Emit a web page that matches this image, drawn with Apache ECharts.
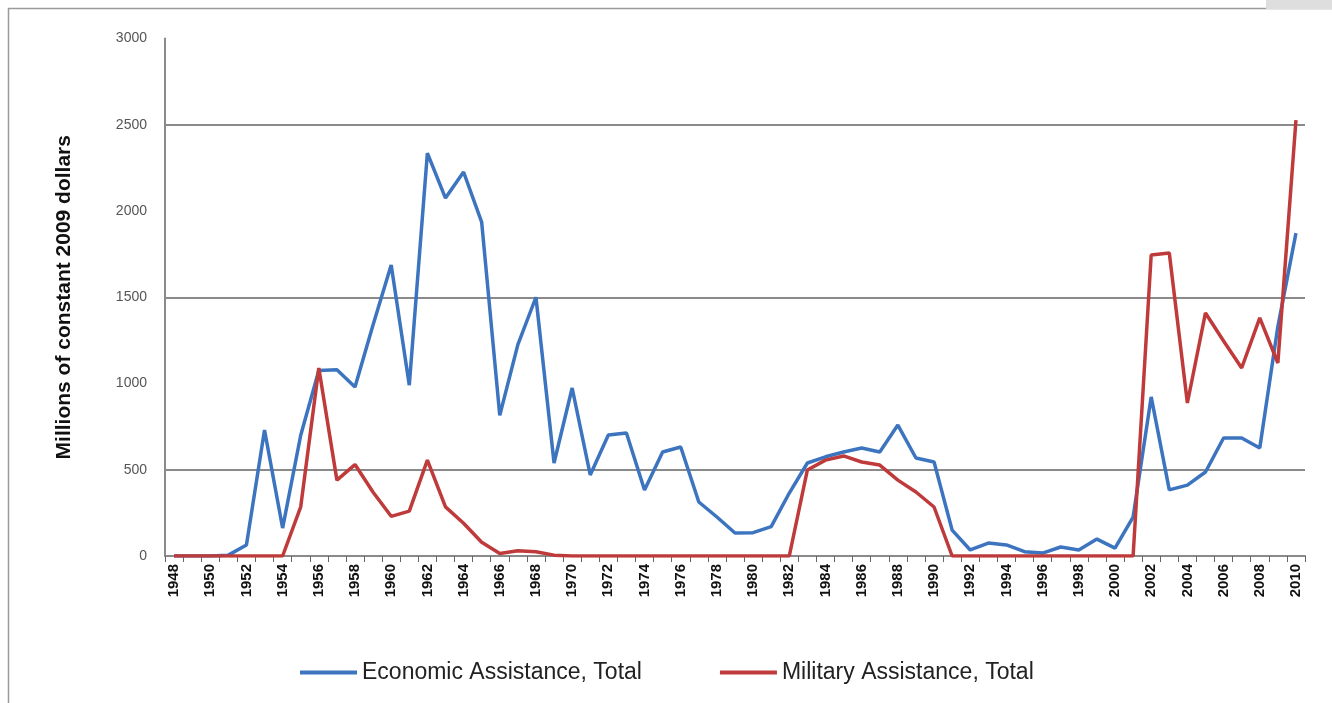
<!DOCTYPE html>
<html>
<head>
<meta charset="utf-8">
<script src="https://cdn.jsdelivr.net/npm/echarts@6/dist/echarts.min.js"></script>
<style>
html,body{margin:0;padding:0;background:#fff;}
#chart{width:1332px;height:703px;}
</style>
</head>
<body>
<div id="chart"></div>
<script>
var years = [];
for (var y = 1948; y <= 2010; y++) years.push(String(y));

var economic = [
  0, 0, 0, 5, 64, 730, 162, 700, 1075, 1080,
  980, 1340, 1687, 990, 2336, 2075, 2226, 1936, 815, 1225,
  1500, 539, 974, 470, 701, 713, 383, 603, 632, 313,
  226, 133, 135, 170, 365, 539, 575, 603, 626, 603,
  759, 568, 545, 150, 35, 75, 64, 25, 17, 52,
  35, 98, 46, 226, 922, 383, 411, 487, 684, 684,
  626, 1330, 1872
];

var military = [
  0, 0, 0, 0, 0, 0, 0, 285, 1090, 440,
  530, 370, 230, 260, 556, 285, 190, 80, 15, 30,
  25, 5, 0, 0, 0, 0, 0, 0, 0, 0,
  0, 0, 0, 0, 0, 499, 556, 580, 545, 527,
  440, 371, 284, 0, 0, 0, 0, 0, 0, 0,
  0, 0, 0, 0, 1745, 1757, 887, 1409, 1246, 1090,
  1380, 1119, 2527
];

var gridValues = [500, 1500, 2500];
var seriesNames = ['Economic Assistance, Total', 'Military Assistance, Total'];

var FONT = '"Liberation Sans", Arial, sans-serif';
var chart = echarts.init(document.getElementById('chart'), null, {renderer: 'canvas'});

chart.setOption({
  animation: false,
  backgroundColor: '#ffffff',
  textStyle: {fontFamily: FONT},
  graphic: [
    {type: 'rect', shape: {x: 8.5, y: 8.5, width: 1340, height: 720}, style: {fill: 'none', stroke: '#9a9a9a', lineWidth: 1.5}, z: -1},
    {type: 'rect', shape: {x: 1266, y: 0, width: 66, height: 9}, style: {fill: '#dedede'}, z: -1}
  ],
  grid: {left: 165, right: 27, top: 38.5, bottom: 147, containLabel: false},
  legend: {
    left: 295, top: 656,
    itemWidth: 57, itemHeight: 4, itemGap: 78,
    icon: 'rect',
    textStyle: {fontSize: 23, color: '#222', fontFamily: FONT},
    data: seriesNames
  },
  xAxis: {
    type: 'category',
    data: years,
    boundaryGap: true,
    axisLine: {lineStyle: {color: '#8a8a8a', width: 2}},
    axisTick: {show: true, interval: 0, length: 6, lineStyle: {color: '#666', width: 1}},
    axisLabel: {interval: 1, rotate: 90, margin: 8, fontSize: 15, fontWeight: 'bold', color: '#111', fontFamily: FONT}
  },
  yAxis: {
    type: 'value',
    min: 0, max: 3000, interval: 500,
    name: 'Millions of constant 2009 dollars',
    nameLocation: 'middle',
    nameRotate: 90,
    nameGap: 90,
    nameTextStyle: {fontSize: 21, fontWeight: 'bold', color: '#111', fontFamily: FONT},
    axisLine: {show: true, lineStyle: {color: '#8a8a8a', width: 2}},
    axisTick: {show: false},
    splitLine: {show: false},
    axisLabel: {margin: 18, fontSize: 14, color: '#555', fontFamily: FONT,
      formatter: function (v) { return String(v); }}
  },
  series: [
    {
      name: seriesNames[0], type: 'line', data: economic,
      symbol: 'none', color: '#3c74bf',
      lineStyle: {width: 3.5, color: '#3c74bf'},
      z: 3,
      markLine: {
        silent: true, symbol: 'none', label: {show: false},
        lineStyle: {color: '#8a8a8a', width: 2, type: 'solid'},
        data: gridValues.map(function (v) { return {yAxis: v}; }),
        z: 1
      }
    },
    {
      name: seriesNames[1], type: 'line', data: military,
      symbol: 'none', color: '#bf3a3a',
      lineStyle: {width: 3.5, color: '#bf3a3a'},
      z: 4
    }
  ]
});
</script>
</body>
</html>
